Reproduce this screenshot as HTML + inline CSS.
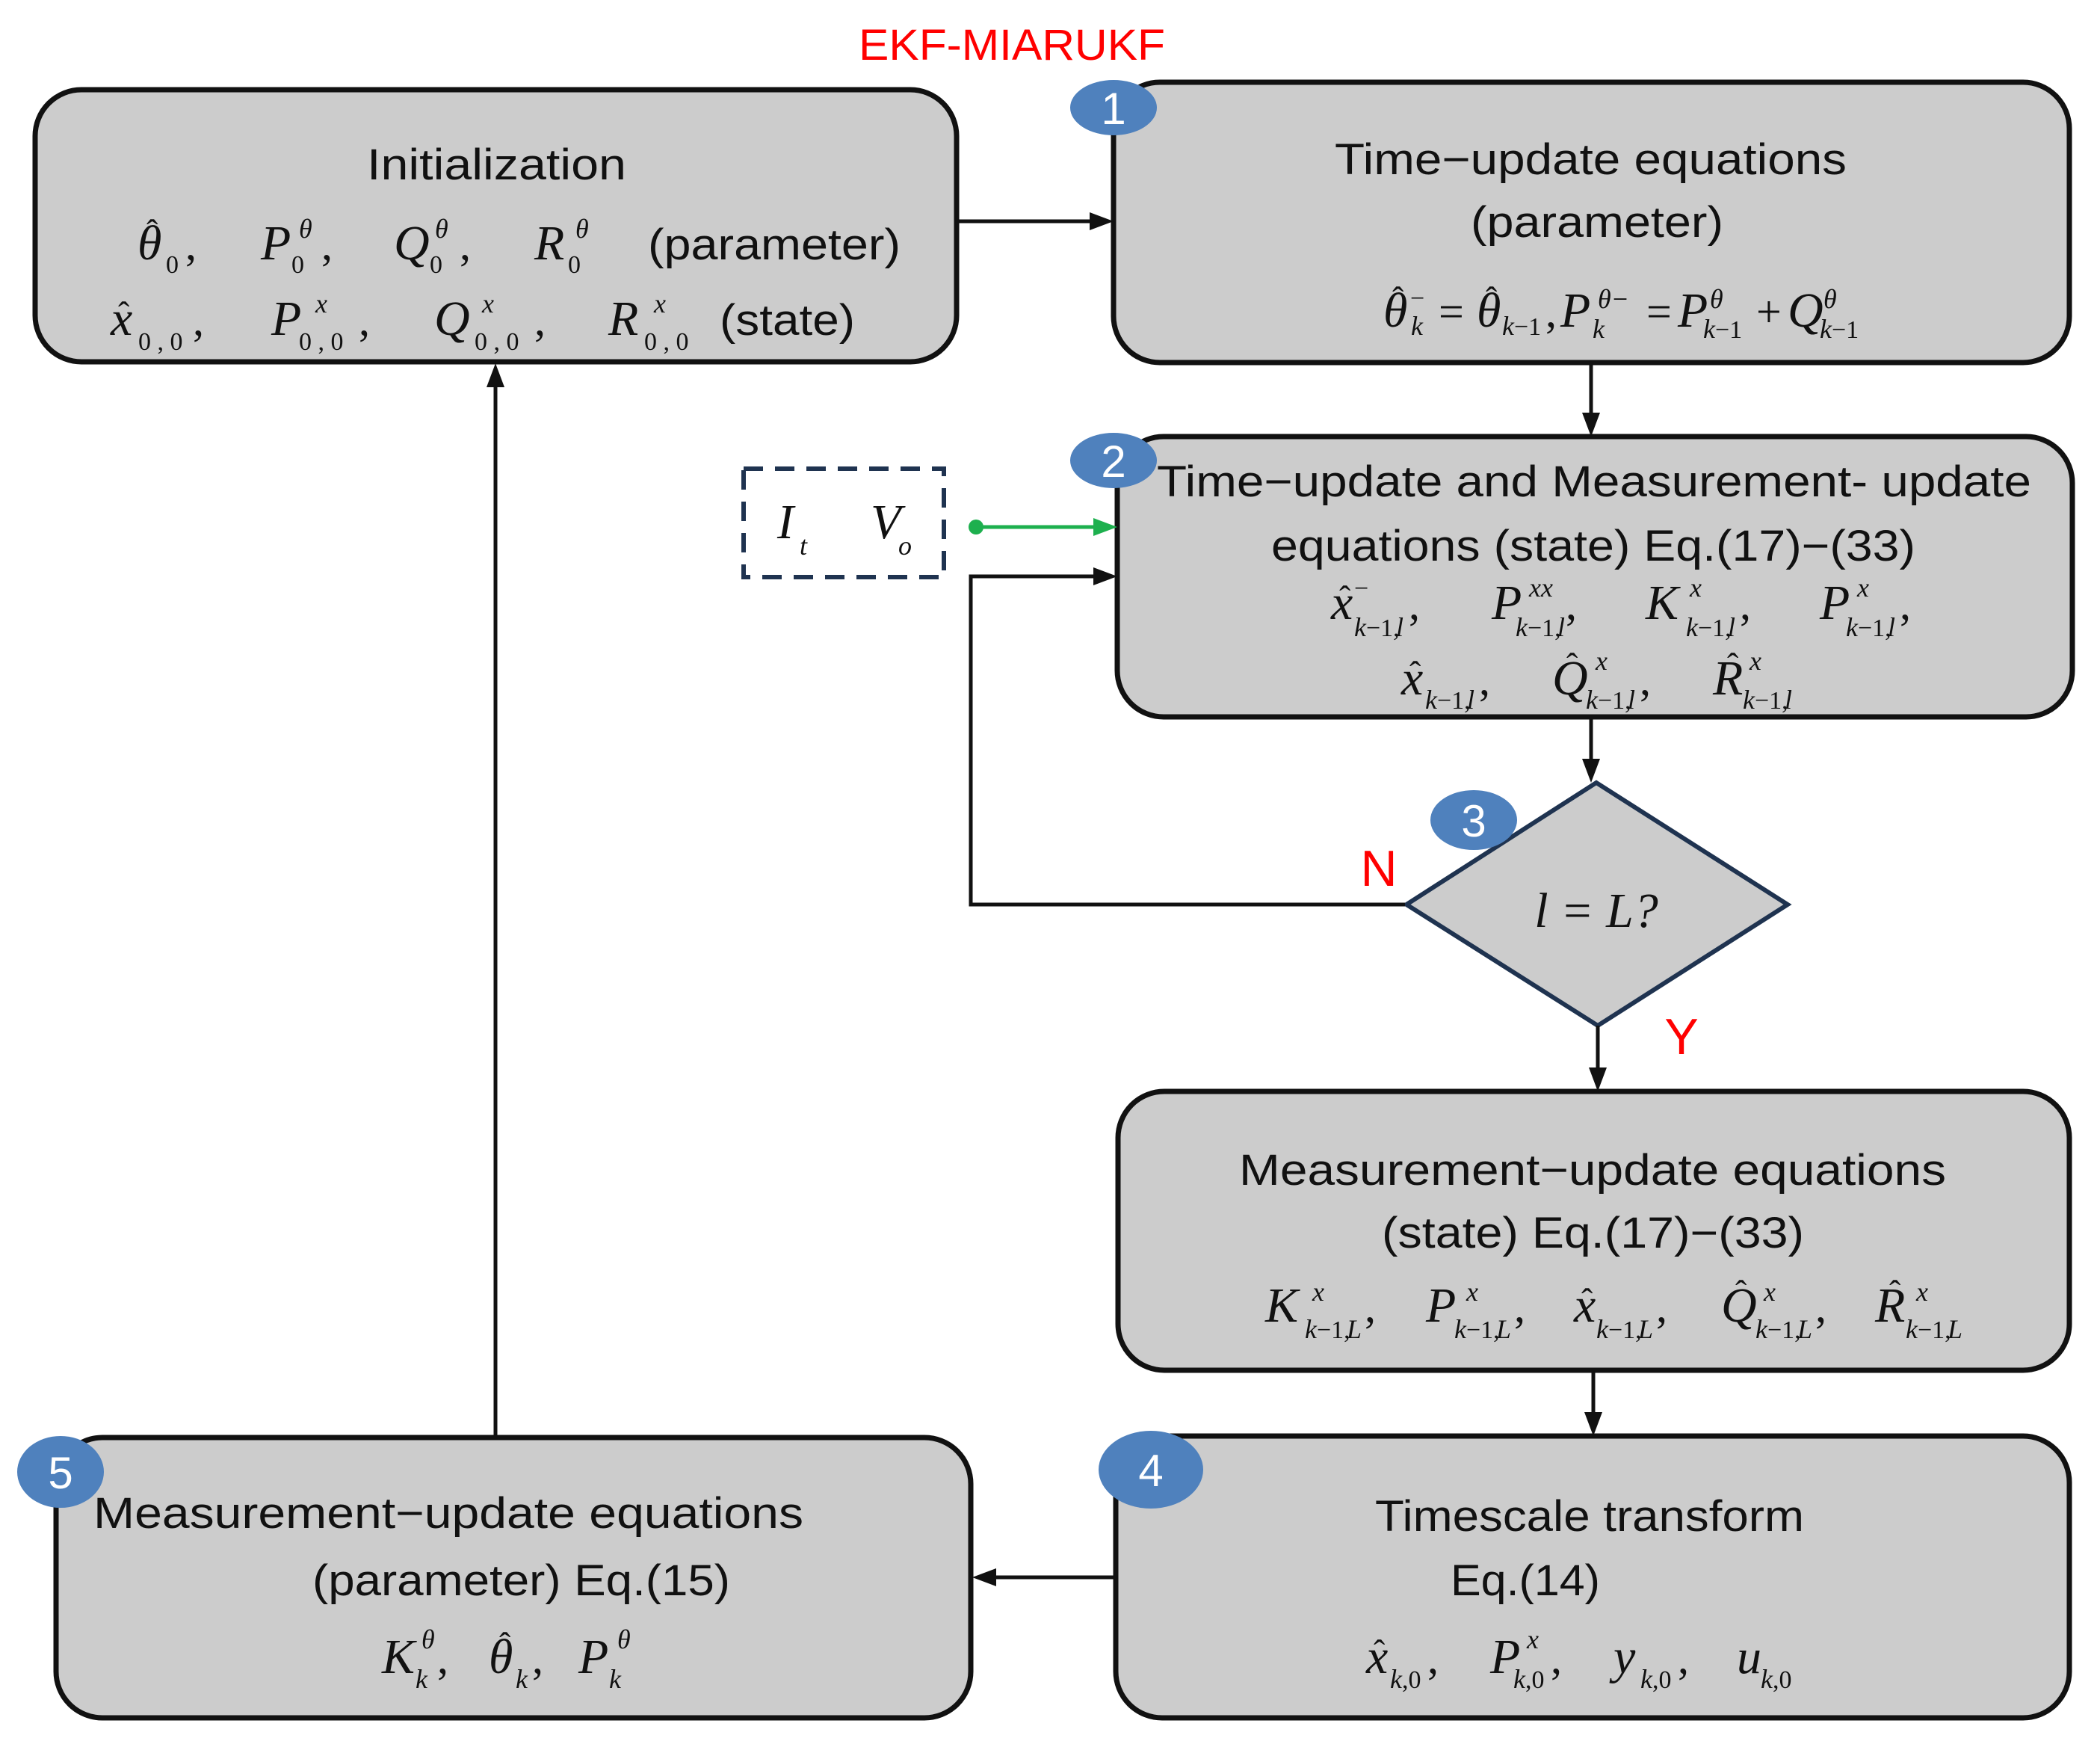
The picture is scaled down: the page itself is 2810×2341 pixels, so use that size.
<!DOCTYPE html>
<html><head><meta charset="utf-8"><style>
html,body{margin:0;padding:0;background:#fff;}
svg{display:block;}
.t{font-family:"Liberation Sans",sans-serif;font-size:58px;fill:#111;}
.m{font-family:"Liberation Serif",serif;font-style:italic;font-size:66px;fill:#111;}
.r{font-family:"Liberation Serif",serif;font-size:60px;fill:#111;}
.s{font-family:"Liberation Serif",serif;font-style:italic;font-size:36px;fill:#111;}
.s0{font-family:"Liberation Serif",serif;font-size:34px;fill:#111;}
.h{font-family:"Liberation Serif",serif;font-size:46px;fill:#111;transform:translate(6px,17px);}
.b{font-family:"Liberation Sans",sans-serif;font-size:60px;fill:#fff;}
.box{fill:#cccccc;stroke:#111;stroke-width:7;}
.ln{stroke:#111;stroke-width:5;fill:none;}
</style></head><body>
<svg width="2810" height="2341" viewBox="0 0 2810 2341" xmlns="http://www.w3.org/2000/svg">

<text x="1354" y="80" text-anchor="middle" font-family="Liberation Sans, sans-serif" font-size="58" fill="#ff0000" textLength="410" lengthAdjust="spacingAndGlyphs">EKF-MIARUKF</text>

<!-- Boxes -->
<rect class="box" x="47" y="120" width="1233" height="364" rx="62"/>
<rect class="box" x="1490" y="110" width="1279" height="375" rx="62"/>
<rect class="box" x="1495" y="584" width="1278" height="375" rx="62"/>
<rect class="box" x="1496" y="1460" width="1273" height="373" rx="62"/>
<rect class="box" x="1493" y="1921" width="1276" height="377" rx="62"/>
<rect class="box" x="75" y="1923" width="1224" height="375" rx="62"/>

<!-- Diamond -->
<polygon points="2136,1047 2392,1210 2138,1372 1882,1210" fill="#cccccc" stroke="#1f3350" stroke-width="6"/>
<text class="m" x="2136" y="1240" text-anchor="middle" font-size="72">l = L?</text>

<!-- Dashed box -->
<rect x="995" y="627" width="268" height="145" fill="none" stroke="#1f3350" stroke-width="6" stroke-dasharray="26,16"/>
<text class="m" x="1040" y="720" font-size="72">I</text><text class="s" x="1070" y="742">t</text>
<text class="m" x="1165" y="720" font-size="72">V</text><text class="s" x="1202" y="742">o</text>

<!-- Connectors -->
<line class="ln" x1="1280" y1="296" x2="1460" y2="296"/>
<polygon points="1490,296 1458,284 1458,308" fill="#111"/>
<line class="ln" x1="2129" y1="485" x2="2129" y2="556"/>
<polygon points="2129,584 2117,552 2141,552" fill="#111"/>
<line class="ln" x1="2129" y1="959" x2="2129" y2="1020"/>
<polygon points="2129,1047 2117,1015 2141,1015" fill="#111"/>
<line class="ln" x1="2138" y1="1372" x2="2138" y2="1432"/>
<polygon points="2138,1460 2126,1428 2150,1428" fill="#111"/>
<line class="ln" x1="2132" y1="1833" x2="2132" y2="1893"/>
<polygon points="2132,1921 2120,1889 2144,1889" fill="#111"/>
<line class="ln" x1="1493" y1="2110" x2="1330" y2="2110"/>
<polygon points="1301,2110 1333,2098 1333,2122" fill="#111"/>
<line class="ln" x1="663" y1="1923" x2="663" y2="515"/>
<polygon points="663,486 651,518 675,518" fill="#111"/>
<polyline class="ln" points="1880,1210 1299,1210 1299,771 1465,771"/>
<polygon points="1495,771 1463,759 1463,783" fill="#111"/>
<line x1="1306" y1="705" x2="1465" y2="705" stroke="#1db04e" stroke-width="5"/>
<circle cx="1306" cy="705" r="10" fill="#1db04e"/>
<polygon points="1495,705 1463,693 1463,717" fill="#1db04e"/>

<text x="1845" y="1185" text-anchor="middle" font-family="Liberation Sans, sans-serif" font-size="68" fill="#ff0000">N</text>
<text x="2250" y="1410" text-anchor="middle" font-family="Liberation Sans, sans-serif" font-size="68" fill="#ff0000">Y</text>

<!-- Badges -->
<ellipse cx="1490" cy="144" rx="58" ry="37" fill="#4f81bd"/><text class="b" x="1490" y="166" text-anchor="middle">1</text>
<ellipse cx="1490" cy="616" rx="58" ry="37" fill="#4f81bd"/><text class="b" x="1490" y="638" text-anchor="middle">2</text>
<ellipse cx="1972" cy="1097" rx="58" ry="40" fill="#4f81bd"/><text class="b" x="1972" y="1119" text-anchor="middle">3</text>
<ellipse cx="1540" cy="1966" rx="70" ry="52" fill="#4f81bd"/><text class="b" x="1540" y="1988" text-anchor="middle">4</text>
<ellipse cx="81" cy="1969" rx="58" ry="48" fill="#4f81bd"/><text class="b" x="81" y="1991" text-anchor="middle">5</text>

<!-- Init text -->
<text class="t" x="491" y="240" textLength="347" lengthAdjust="spacingAndGlyphs">Initialization</text>
<text class="t" x="867" y="347" textLength="338" lengthAdjust="spacingAndGlyphs">(parameter)</text>
<text class="t" x="963" y="448" textLength="181" lengthAdjust="spacingAndGlyphs">(state)</text>
<!-- row1 -->
<text class="m" x="184" y="347">θ</text><text class="h" x="190" y="308">ˆ</text><text class="s0" x="222" y="365">0</text><text class="r" x="248" y="347">,</text>
<text class="m" x="349" y="347">P</text><text class="s" x="400" y="318">θ</text><text class="s0" x="390" y="365">0</text><text class="r" x="430" y="347">,</text>
<text class="m" x="527" y="347">Q</text><text class="s" x="582" y="318">θ</text><text class="s0" x="575" y="365">0</text><text class="r" x="615" y="347">,</text>
<text class="m" x="715" y="347">R</text><text class="s" x="770" y="318">θ</text><text class="s0" x="760" y="365">0</text>
<!-- row2 -->
<text class="m" x="148" y="448">x</text><text class="h" x="152" y="418">ˆ</text><text class="s0" x="185" y="468">0 , 0</text><text class="r" x="258" y="448">,</text>
<text class="m" x="363" y="448">P</text><text class="s" x="422" y="418">x</text><text class="s0" x="400" y="468">0 , 0</text><text class="r" x="480" y="448">,</text>
<text class="m" x="581" y="448">Q</text><text class="s" x="645" y="418">x</text><text class="s0" x="635" y="468">0 , 0</text><text class="r" x="715" y="448">,</text>
<text class="m" x="814" y="448">R</text><text class="s" x="875" y="418">x</text><text class="s0" x="862" y="468">0 , 0</text>

<!-- Box1 text -->
<text class="t" x="1786" y="233" textLength="685" lengthAdjust="spacingAndGlyphs">Time−update equations</text>
<text class="t" x="1968" y="317" textLength="338" lengthAdjust="spacingAndGlyphs">(parameter)</text>
<text class="m" x="1851" y="437">θ</text><text class="h" x="1857" y="398">ˆ</text><text class="s0" x="1887" y="410">−</text><text class="s" x="1888" y="448">k</text>
<text class="r" x="1925" y="437">=</text>
<text class="m" x="1976" y="437">θ</text><text class="h" x="1982" y="398">ˆ</text><text class="s" x="2010" y="448">k</text><text class="s0" x="2026" y="448">−1</text><text class="r" x="2068" y="437">,</text>
<text class="m" x="2088" y="437">P</text><text class="s" x="2138" y="412">θ−</text><text class="s" x="2131" y="452">k</text>
<text class="r" x="2203" y="437">=</text>
<text class="m" x="2245" y="437">P</text><text class="s" x="2288" y="412">θ</text><text class="s" x="2279" y="452">k</text><text class="s0" x="2295" y="452">−1</text>
<text class="r" x="2350" y="437">+</text>
<text class="m" x="2392" y="437">Q</text><text class="s" x="2440" y="412">θ</text><text class="s" x="2435" y="452">k</text><text class="s0" x="2451" y="452">−1</text>

<!-- Box2 text -->
<text class="t" x="1548" y="664" textLength="1170" lengthAdjust="spacingAndGlyphs">Time−update and Measurement- update</text>
<text class="t" x="1701" y="750" textLength="862" lengthAdjust="spacingAndGlyphs">equations (state) Eq.(17)−(33)</text>
<text class="m" x="1781" y="828">x</text><text class="h" x="1786" y="798">ˆ</text><text class="s0" x="1812" y="798">−</text><text class="s" x="1812" y="851">k</text><text class="s0" x="1828" y="851">−1,</text><text class="s" x="1868" y="851">l</text><text class="r" x="1885" y="828">,</text>
<text class="m" x="1996" y="828">P</text><text class="s" x="2046" y="798">xx</text><text class="s" x="2028" y="851">k</text><text class="s0" x="2044" y="851">−1,</text><text class="s" x="2084" y="851">l</text><text class="r" x="2095" y="828">,</text>
<text class="m" x="2202" y="828">K</text><text class="s" x="2261" y="798">x</text><text class="s" x="2256" y="851">k</text><text class="s0" x="2272" y="851">−1,</text><text class="s" x="2312" y="851">l</text><text class="r" x="2328" y="828">,</text>
<text class="m" x="2435" y="828">P</text><text class="s" x="2485" y="798">x</text><text class="s" x="2470" y="851">k</text><text class="s0" x="2486" y="851">−1,</text><text class="s" x="2526" y="851">l</text><text class="r" x="2542" y="828">,</text>
<text class="m" x="1875" y="929">x</text><text class="h" x="1880" y="899">ˆ</text><text class="s" x="1907" y="948">k</text><text class="s0" x="1923" y="948">−1,</text><text class="s" x="1963" y="948">l</text><text class="r" x="1979" y="929">,</text>
<text class="m" x="2077" y="929">Q</text><text class="h" x="2090" y="888">ˆ</text><text class="s" x="2135" y="896">x</text><text class="s" x="2122" y="948">k</text><text class="s0" x="2138" y="948">−1,</text><text class="s" x="2178" y="948">l</text><text class="r" x="2194" y="929">,</text>
<text class="m" x="2292" y="929">R</text><text class="h" x="2305" y="888">ˆ</text><text class="s" x="2341" y="896">x</text><text class="s" x="2332" y="948">k</text><text class="s0" x="2348" y="948">−1,</text><text class="s" x="2388" y="948">l</text>

<!-- Box3 text -->
<text class="t" x="1658" y="1585" textLength="946" lengthAdjust="spacingAndGlyphs">Measurement−update equations</text>
<text class="t" x="1849" y="1669" textLength="565" lengthAdjust="spacingAndGlyphs">(state) Eq.(17)−(33)</text>
<text class="m" x="1693" y="1768">K</text><text class="s" x="1756" y="1740">x</text><text class="s" x="1746" y="1790">k</text><text class="s0" x="1762" y="1790">−1,</text><text class="s" x="1802" y="1790">L</text><text class="r" x="1826" y="1768">,</text>
<text class="m" x="1908" y="1768">P</text><text class="s" x="1962" y="1740">x</text><text class="s" x="1946" y="1790">k</text><text class="s0" x="1962" y="1790">−1,</text><text class="s" x="2002" y="1790">L</text><text class="r" x="2026" y="1768">,</text>
<text class="m" x="2106" y="1768">x</text><text class="h" x="2110" y="1738">ˆ</text><text class="s" x="2136" y="1790">k</text><text class="s0" x="2152" y="1790">−1,</text><text class="s" x="2192" y="1790">L</text><text class="r" x="2216" y="1768">,</text>
<text class="m" x="2303" y="1768">Q</text><text class="h" x="2316" y="1727">ˆ</text><text class="s" x="2360" y="1740">x</text><text class="s" x="2349" y="1790">k</text><text class="s0" x="2365" y="1790">−1,</text><text class="s" x="2405" y="1790">L</text><text class="r" x="2429" y="1768">,</text>
<text class="m" x="2509" y="1768">R</text><text class="h" x="2522" y="1727">ˆ</text><text class="s" x="2564" y="1740">x</text><text class="s" x="2550" y="1790">k</text><text class="s0" x="2566" y="1790">−1,</text><text class="s" x="2606" y="1790">L</text>

<!-- Box4 text -->
<text class="t" x="1840" y="2048" textLength="574" lengthAdjust="spacingAndGlyphs">Timescale transform</text>
<text class="t" x="1941" y="2134" textLength="200" lengthAdjust="spacingAndGlyphs">Eq.(14)</text>
<text class="m" x="1828" y="2238">x</text><text class="h" x="1832" y="2208">ˆ</text><text class="s" x="1860" y="2258">k</text><text class="s0" x="1876" y="2258">,0</text><text class="r" x="1910" y="2238">,</text>
<text class="m" x="1994" y="2238">P</text><text class="s" x="2043" y="2205">x</text><text class="s" x="2025" y="2258">k</text><text class="s0" x="2041" y="2258">,0</text><text class="r" x="2075" y="2238">,</text>
<text class="m" x="2159" y="2238">y</text><text class="s" x="2195" y="2258">k</text><text class="s0" x="2211" y="2258">,0</text><text class="r" x="2245" y="2238">,</text>
<text class="m" x="2324" y="2238">u</text><text class="s" x="2356" y="2258">k</text><text class="s0" x="2372" y="2258">,0</text>

<!-- Box5 text -->
<text class="t" x="125" y="2044" textLength="950" lengthAdjust="spacingAndGlyphs">Measurement−update equations</text>
<text class="t" x="418" y="2134" textLength="559" lengthAdjust="spacingAndGlyphs">(parameter) Eq.(15)</text>
<text class="m" x="511" y="2238">K</text><text class="s" x="564" y="2205">θ</text><text class="s" x="556" y="2258">k</text><text class="r" x="585" y="2238">,</text>
<text class="m" x="654" y="2238">θ</text><text class="h" x="662" y="2198">ˆ</text><text class="s" x="690" y="2258">k</text><text class="r" x="712" y="2238">,</text>
<text class="m" x="774" y="2238">P</text><text class="s" x="826" y="2205">θ</text><text class="s" x="815" y="2258">k</text>
</svg>
</body></html>
